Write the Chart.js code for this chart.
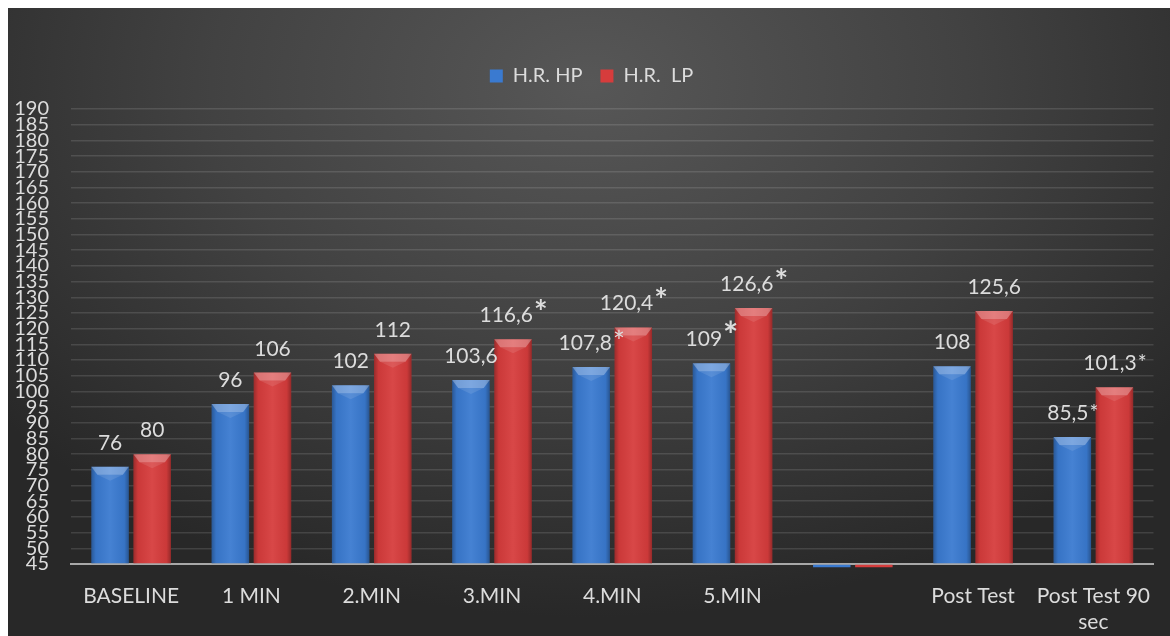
<!DOCTYPE html>
<html><head><meta charset="utf-8">
<script src="https://cdn.jsdelivr.net/npm/chart.js@4"></script>
<style>
html,body{margin:0;padding:0;background:#fff;width:1170px;height:636px;overflow:hidden}
#wrap{position:absolute;left:8px;top:8px;width:1162px;height:628px;
background: radial-gradient(ellipse 65% 85% at 50% 12%, #575757 0%, #424242 50%, #282828 100%);}
</style></head><body><div id="wrap"><canvas id="c"></canvas></div>
<script>
const categories = ["BASELINE", "1 MIN", "2.MIN", "3.MIN", "4.MIN", "5.MIN", "", "Post Test", ["Post Test 90", "sec"]];
const seriesNames = ["H.R. HP", "H.R.  LP"];
const hpValues = [76, 96, 102, 103.6, 107.8, 109, 44, 108, 85.5];
const lpValues = [80, 106, 112, 116.6, 120.4, 126.6, 44, 125.6, 101.3];
const hpLabels = ["76", "96", "102", "103,6", "107,8", "109", "", "108", "85,5"];
const lpLabels = ["80", "106", "112", "116,6", "120,4", "126,6", "", "125,6", "101,3"];
const hpMarks = ["", "", "", "", "*", "*", "", "", "*"];
const lpMarks = ["", "", "", "*", "*", "*", "", "", "*"];
const yMin = 45, yMax = 190, yStep = 5;

const FONT = 'Lato';
const TXT = '#dcdcdc';
const hpMarkScale = [1, 1, 1, 1, 1.35, 1.7, 1, 1, 1];
const lpMarkScale = [1, 1, 1, 1.5, 1.5, 1.5, 1, 1, 1];

const legendGap = {
  id: 'legendGap',
  beforeInit(chart) {
    const lg = chart.legend;
    if (!lg) return;
    const f = lg.fit;
    lg.fit = function () { f.call(this); this.height += 13; };
  }
};

const barFx = {
  id: 'barFx',
  afterDatasetsDraw(chart) {
    const ctx = chart.ctx;
    chart.data.datasets.forEach((ds, di) => {
      const meta = chart.getDatasetMeta(di);
      meta.data.forEach(bar => {
        if (bar.y >= bar.base) return;
        const l = bar.x - bar.width / 2, r = bar.x + bar.width / 2, t = bar.y, b = bar.base;
        ctx.save();
        const g = ctx.createLinearGradient(l, 0, r, 0);
        g.addColorStop(0, 'rgba(0,0,0,0.28)');
        g.addColorStop(0.12, 'rgba(0,0,0,0.05)');
        g.addColorStop(0.5, 'rgba(255,255,255,0.06)');
        g.addColorStop(0.88, 'rgba(0,0,0,0.05)');
        g.addColorStop(1, 'rgba(0,0,0,0.3)');
        ctx.fillStyle = g;
        ctx.fillRect(l, t, r - l, b - t);
        ctx.beginPath();
        ctx.moveTo(l, t); ctx.lineTo(r, t); ctx.lineTo(r - 6, t + 8); ctx.lineTo(l + 6, t + 8); ctx.closePath();
        ctx.fillStyle = 'rgba(255,255,255,0.3)';
        ctx.fill();
        ctx.beginPath();
        ctx.moveTo(l + 6, t + 8); ctx.lineTo(r - 6, t + 8); ctx.lineTo(bar.x, t + 14); ctx.closePath();
        ctx.fillStyle = 'rgba(255,255,255,0.1)';
        ctx.fill();
        ctx.restore();
      });
    });
    const sets = [[0, hpLabels, hpMarks, hpMarkScale], [1, lpLabels, lpMarks, lpMarkScale]];
    const F = 21;
    sets.forEach(([di, labs, marks, sc]) => {
      const meta = chart.getDatasetMeta(di);
      meta.data.forEach((bar, i) => {
        if (!labs[i]) return;
        ctx.save();
        ctx.textAlign = 'left';
        ctx.textBaseline = 'alphabetic';
        ctx.fillStyle = TXT;
        ctx.font = F + 'px ' + FONT;
        const w1 = ctx.measureText(labs[i]).width;
        let w2 = 0;
        const mf = (sc[i] > 1.4 ? 'bold ' : '') + Math.round(F * sc[i]) + 'px ' + FONT;
        if (marks[i]) { ctx.font = mf; w2 = ctx.measureText(marks[i]).width; }
        const x0 = bar.x - (w1 + w2) / 2;
        const yb = bar.y - 17;
        ctx.font = F + 'px ' + FONT;
        ctx.fillText(labs[i], x0, yb);
        if (marks[i]) { ctx.font = mf; ctx.fillText(marks[i], x0 + w1 + 1, yb + (sc[i] > 1 ? 2 : 0)); }
        ctx.restore();
      });
    });
  }
};

new Chart(document.getElementById('c'), {
  type: 'bar',
  data: {
    labels: categories,
    datasets: [
      { label: seriesNames[0], data: hpValues, backgroundColor: '#3a7ad0', borderWidth: 0, clip: false, base: yMin,
        categoryPercentage: 0.7, barPercentage: 0.89 },
      { label: seriesNames[1], data: lpValues, backgroundColor: '#d63c3c', borderWidth: 0, clip: false, base: yMin,
        categoryPercentage: 0.7, barPercentage: 0.89 }
    ]
  },
  options: {
    responsive: true,
    maintainAspectRatio: false,
    animation: false,
    layout: { padding: { left: 5, right: 0, top: 40, bottom: 0 } },
    plugins: {
      legend: {
        position: 'top',
        labels: { color: TXT, font: { family: FONT, size: 20 }, boxWidth: 13, boxHeight: 13, padding: 18 }
      },
      tooltip: { enabled: false }
    },
    scales: {
      x: {
        grid: { display: false, drawTicks: false },
        border: { display: true, color: '#a8a8a8', width: 2 },
        ticks: { color: TXT, font: { family: FONT, size: 21 }, padding: 20, maxRotation: 0, autoSkip: false },
        afterFit(scale) { scale.height = 72; }
      },
      y: {
        min: yMin, max: yMax,
        grid: { color: 'rgba(255,255,255,0.12)', lineWidth: 1.5, drawTicks: false },
        border: { display: false },
        ticks: { stepSize: yStep, autoSkip: false, color: TXT, font: { family: FONT, size: 20 }, padding: 22 },
        afterFit(scale) { scale.width = 58; }
      }
    }
  },
  plugins: [legendGap, barFx]
});
</script></body></html>
